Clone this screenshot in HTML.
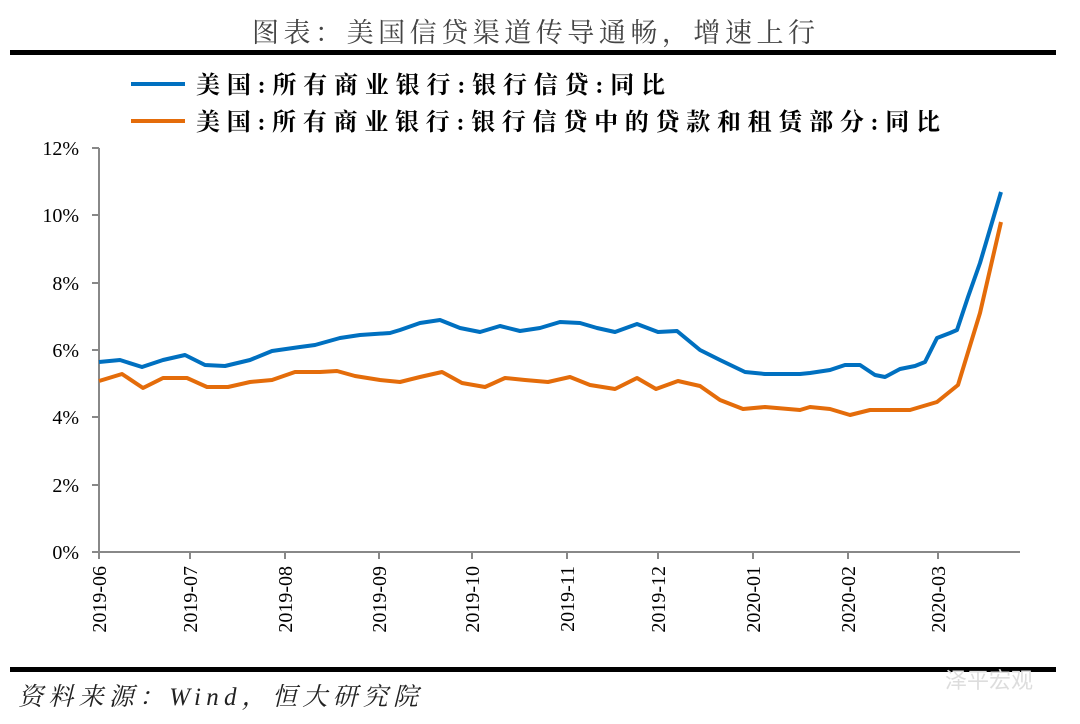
<!DOCTYPE html>
<html><head><meta charset="utf-8"><style>
body{margin:0;background:#fff;}
svg{display:block;}
</style></head><body>
<svg width="1080" height="724" viewBox="0 0 1080 724" xmlns="http://www.w3.org/2000/svg">
<text x="252" y="42" textLength="563" lengthAdjust="spacing" font-family="'Liberation Serif','Noto Serif CJK SC',serif" font-size="27" fill="#444">图表：美国信贷渠道传导通畅，增速上行</text>
<rect x="10" y="50" width="1046" height="5" fill="#000"/>
<line x1="131" y1="84" x2="185" y2="84" stroke="#0070C0" stroke-width="4"/>
<line x1="131" y1="121" x2="185" y2="121" stroke="#E46C0A" stroke-width="4"/>
<g font-family="'Liberation Serif','Noto Serif CJK SC',serif" font-size="24" font-weight="bold" fill="#000">
<text x="196" y="93" textLength="469" lengthAdjust="spacing">美国:所有商业银行:银行信贷:同比</text>
<text x="196" y="130" textLength="744" lengthAdjust="spacing">美国:所有商业银行:银行信贷中的贷款和租赁部分:同比</text>
</g>
<g stroke="#888" stroke-width="2">
<line x1="99" y1="148" x2="99" y2="552"/>
<line x1="99" y1="552" x2="1020" y2="552"/>
<line x1="92" y1="148" x2="99" y2="148"/><line x1="92" y1="215" x2="99" y2="215"/>
<line x1="92" y1="283" x2="99" y2="283"/><line x1="92" y1="350" x2="99" y2="350"/>
<line x1="92" y1="417" x2="99" y2="417"/><line x1="92" y1="485" x2="99" y2="485"/>
<line x1="92" y1="552" x2="99" y2="552"/>
<line x1="99" y1="552" x2="99" y2="559"/><line x1="190" y1="552" x2="190" y2="559"/>
<line x1="285" y1="552" x2="285" y2="559"/><line x1="379" y1="552" x2="379" y2="559"/>
<line x1="472" y1="552" x2="472" y2="559"/><line x1="567" y1="552" x2="567" y2="559"/>
<line x1="658" y1="552" x2="658" y2="559"/><line x1="753" y1="552" x2="753" y2="559"/>
<line x1="848" y1="552" x2="848" y2="559"/><line x1="938" y1="552" x2="938" y2="559"/>
</g>
<g font-family="'Liberation Serif',serif" font-size="20" fill="#000" text-anchor="end">
<text x="79" y="155">12%</text><text x="79" y="222">10%</text><text x="79" y="290">8%</text>
<text x="79" y="357">6%</text><text x="79" y="424">4%</text><text x="79" y="492">2%</text><text x="79" y="559">0%</text>
</g>
<g font-family="'Liberation Serif',serif" font-size="20" fill="#000" text-anchor="end">
<text transform="translate(106,566) rotate(-90)">2019-06</text>
<text transform="translate(197,566) rotate(-90)">2019-07</text>
<text transform="translate(292,566) rotate(-90)">2019-08</text>
<text transform="translate(386,566) rotate(-90)">2019-09</text>
<text transform="translate(479,566) rotate(-90)">2019-10</text>
<text transform="translate(574,566) rotate(-90)">2019-11</text>
<text transform="translate(665,566) rotate(-90)">2019-12</text>
<text transform="translate(760,566) rotate(-90)">2020-01</text>
<text transform="translate(855,566) rotate(-90)">2020-02</text>
<text transform="translate(945,566) rotate(-90)">2020-03</text>
</g>
<polyline fill="none" stroke="#0070C0" stroke-width="4" stroke-linejoin="round" points="99,362 120,360 142,367 163,360 185,355 205,365 225,366 250,360 272,351 300,347 315,345 340,338 360,335 390,333 400,330 420,323 440,320 460,328 480,332 500,326 520,331 540,328 560,322 580,323 597,328 615,332 637,324 658,332 677,331 700,350 720,360 745,372 765,374 800,374 810,373 830,370 845,365 860,365 875,375 885,377 900,369 915,366 925,362 937,338 950,333 957,330 968,297 980,263 1001,192"/>
<polyline fill="none" stroke="#E46C0A" stroke-width="4" stroke-linejoin="round" points="99,381 122,374 143,388 163,378 187,378 207,387 228,387 250,382 272,380 295,372 320,372 337,371 355,376 380,380 400,382 420,377 442,372 462,383 485,387 505,378 525,380 548,382 570,377 590,385 615,389 637,378 656,389 678,381 700,386 720,400 743,409 765,407 800,410 810,407 830,409 850,415 870,410 890,410 910,410 937,402 958,385 980,313 1001,222"/>
<rect x="10" y="667" width="1046" height="5" fill="#000"/>
<text x="18" y="705" textLength="400" lengthAdjust="spacing" font-family="'Liberation Serif','Noto Serif CJK SC',serif" font-size="25" font-style="italic" fill="#222">资料来源：Wind，恒大研究院</text>
<text x="945" y="688" font-family="'Liberation Sans','Noto Sans CJK SC',sans-serif" font-size="22" fill="#ddd">泽平宏观</text>
</svg>
</body></html>
